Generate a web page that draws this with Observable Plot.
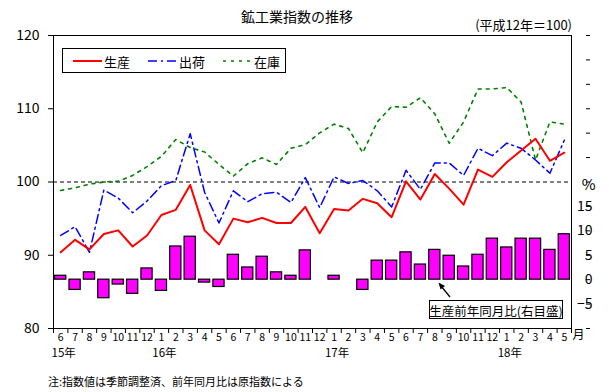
<!DOCTYPE html>
<html><head><meta charset="utf-8">
<script src="https://cdn.jsdelivr.net/npm/d3@7"></script>
<script src="https://cdn.jsdelivr.net/npm/@observablehq/plot@0.6"></script>
<style>
body{margin:0;background:#fff;font-family:"Noto Sans CJK JP",sans-serif;}
#wrap{position:relative;width:609px;height:392px;overflow:hidden;background:#fff;}
#title{position:absolute;left:0;width:594px;top:7px;text-align:center;font-size:14px;line-height:18px;}
#sub{position:absolute;right:37px;top:17px;font-size:13px;line-height:16px;z-index:3;}
#chart{position:absolute;left:0;top:30px;z-index:1;}
#note{position:absolute;left:48px;top:373px;font-size:11px;line-height:16px;}
#overlay{position:absolute;left:0;top:0;pointer-events:none;z-index:2;}
</style></head><body>
<div id="wrap">
 <div id="title">鉱工業指数の推移</div>
 <div id="sub">(平成12年＝100)</div>
 <div id="chart"></div>
 <div id="note">注:指数値は季節調整済、前年同月比は原指数による</div>
 <svg id="overlay" width="609" height="392"></svg>
</div>
<script>
const monthLabels = ["6","7","8","9","10","11","12","1","2","3","4","5","6","7","8","9","10","11","12","1","2","3","4","5","6","7","8","9","10","11","12","1","2","3","4","5"];
const yearLabels = [{label:"15年", index:0},{label:"16年", index:7},{label:"17年", index:19},{label:"18年", index:31}];
const production = [90.4, 92.1, 90.8, 92.9, 93.4, 91.2, 92.7, 95.5, 96.2, 99.6, 93.4, 91.5, 95.0, 94.5, 95.1, 94.4, 94.4, 96.6, 93.0, 96.3, 96.1, 97.7, 97.1, 95.2, 100.1, 97.6, 101.1, 99.1, 96.9, 101.7, 100.7, 102.7, 104.3, 105.9, 102.9, 104.0];
const shipments = [92.7, 93.9, 90.4, 98.9, 97.8, 95.8, 97.4, 99.5, 100.2, 106.6, 98.6, 94.4, 98.8, 97.3, 98.4, 98.6, 97.2, 100.6, 96.5, 100.7, 99.8, 100.2, 98.8, 96.6, 101.6, 99.0, 102.6, 102.6, 100.9, 104.6, 103.6, 105.3, 104.6, 103.0, 101.2, 105.7];
const inventory = [98.85, 99.2, 99.7, 100.0, 100.1, 100.9, 102.1, 103.5, 105.8, 104.7, 104.1, 102.4, 100.8, 102.5, 103.3, 102.4, 104.6, 105.1, 106.7, 107.9, 107.3, 104.0, 108.2, 110.3, 110.2, 111.5, 109.3, 105.3, 108.2, 112.7, 112.7, 112.9, 110.9, 103.0, 108.2, 107.9];
const productionYoY = [0.8, -2.1, 1.5, -3.8, -1.0, -2.9, 2.3, -2.3, 6.8, 8.8, -0.6, -1.5, 5.1, 2.5, 4.7, 1.5, 0.8, 6.0, 0, 0.8, 0, -2.1, 3.9, 3.9, 5.6, 3.1, 6.1, 4.9, 2.7, 5.1, 8.4, 6.6, 8.4, 8.4, 6.1, 9.3];
const seriesNames = ["生産","出荷","在庫"];
const seriesColors = ["#ff0000","#0000ff","#008000"];
const leftTicks = [80,90,100,110,120];
const rightTicks = d3.range(-10, 51, 5);
const rightLabels = [-5,0,5,10,15];
const annotationText = "生産前年同月比(右目盛)";

const toLeft = p => 80 + (p + 10) * 40 / 60;
const fromLeft = v => (v - 80) * 60 / 40 - 10;
const rows = monthLabels.map((m,i)=>({i, m, prod:production[i], ship:shipments[i], inv:inventory[i], yoy:productionYoY[i]}));
const cx = d => d.i + 0.5;
const font = '"Noto Sans CJK JP", sans-serif';

const plot = Plot.plot({
  width:609, height:335, marginTop:5, marginBottom:37, marginLeft:53, marginRight:38,
  style:{fontFamily:font, fontSize:"14px", color:"black", background:"white", overflow:"visible"},
  x:{type:"linear", domain:[0,36], label:null},
  y:{domain:[80,120], label:null},
  marks:[
    Plot.rect(rows.filter(d=>d.yoy!==0), {x1:d=>d.i+0.11, x2:d=>d.i+0.89, y1:d=>toLeft(0), y2:d=>toLeft(d.yoy), fill:"#ff00ff", stroke:"black", strokeWidth:1.2}),
    Plot.ruleY([100], {stroke:"black", strokeDasharray:"4,3"}),
    Plot.line(rows, {x:cx, y:"inv", stroke:seriesColors[2], strokeWidth:1.6, strokeDasharray:"3,5"}),
    Plot.line(rows, {x:cx, y:"ship", stroke:seriesColors[1], strokeWidth:1.5, strokeDasharray:"9,4,2,4"}),
    Plot.line(rows, {x:cx, y:"prod", stroke:seriesColors[0], strokeWidth:2}),
    Plot.frame({stroke:"black"}),
    Plot.axisY(leftTicks, {anchor:"left", tickSize:5, tickPadding:9, fontSize:14, label:null}),
    Plot.axisY(rightTicks.map(toLeft), {anchor:"right", tickSize:4, tickPadding:3, textAnchor:"end", dx:14, fontSize:14, label:null,
      tickFormat: v => { const p = Math.round(fromLeft(v)); return rightLabels.includes(p) ? (p < 0 ? "−" + (-p) : String(p)) : ""; }}),
    Plot.axisX(d3.range(0,37), {tickSize:5, tickFormat:()=>"", label:null}),
    Plot.text(rows, {x:cx, text:"m", frameAnchor:"bottom", dy:12, fontSize:10.5}),
    Plot.text(yearLabels, {x:d=>d.index+0.5, text:"label", frameAnchor:"bottom", dy:28, dx:3, fontSize:11.5}),
    Plot.text(["月"], {x:[36], text:d=>d, frameAnchor:"bottom", dy:10, dx:1, textAnchor:"start", fontSize:12}),
    Plot.text(["%"], {y:[toLeft(20)], text:d=>d, frameAnchor:"right", dx:24, dy:3, fontSize:15})
  ]
});
document.getElementById("chart").appendChild(plot);

// legend and annotation overlay
const ov = d3.select("#overlay");
ov.append("rect").attr("x",62.5).attr("y",48.5).attr("width",223).attr("height",24).attr("fill","white").attr("stroke","black");
const dashes = [null, "9,4,2,4", "3,5"];
seriesNames.forEach((name,k)=>{
  const x0 = 73 + k*75;
  ov.append("line").attr("x1",x0).attr("x2",x0+29).attr("y1",61).attr("y2",61)
    .attr("stroke",seriesColors[k]).attr("stroke-width",k===0?2:1.5).attr("stroke-dasharray",dashes[k]);
  ov.append("text").attr("x",x0+31).attr("y",61).attr("dominant-baseline","central")
    .attr("font-family",font).attr("font-size",13).text(name);
});
ov.append("rect").attr("x",429.5).attr("y",300.5).attr("width",133).attr("height",18).attr("fill","white").attr("stroke","black");
ov.append("text").attr("x",496).attr("y",310).attr("text-anchor","middle").attr("dominant-baseline","central")
  .attr("font-family",font).attr("font-size",12.5).text(annotationText);
ov.append("line").attr("x1",450).attr("y1",297).attr("x2",441).attr("y2",286).attr("stroke","black").attr("stroke-width",1.3);
ov.append("path").attr("d","M438.5,282.5 L445,286 L440.5,289.5 Z").attr("fill","black");
</script>
</body></html>
